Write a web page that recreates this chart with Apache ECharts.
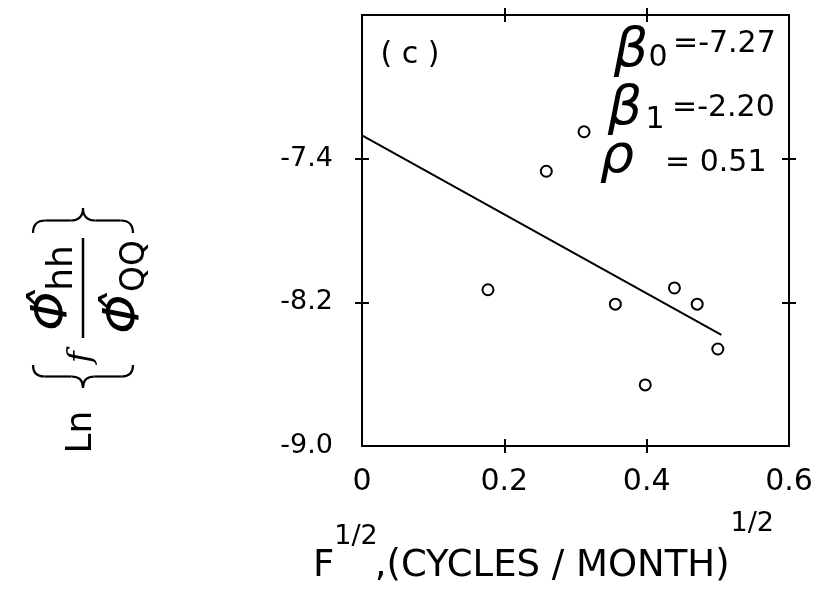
<!DOCTYPE html>
<html>
<head>
<meta charset="utf-8">
<script src="https://cdn.jsdelivr.net/npm/echarts@6/dist/echarts.min.js"></script>
<style>
  html, body { margin: 0; padding: 0; background: #ffffff; }
  #chart { width: 816px; height: 590px; }
</style>
</head>
<body>
<div id="chart"></div>
<script>
// Square root of frequency, (cycles/month)^1/2, one entry per observation
const freqSqrt = [0.177, 0.259, 0.312, 0.356, 0.398, 0.439, 0.471, 0.500];
// Ln{ f * phi_hh / phi_QQ } at each frequency
const logRatio = [-8.13, -7.47, -7.25, -8.21, -8.66, -8.12, -8.21, -8.46];
// Regression fit: intercept, slope and correlation
const beta0 = -7.27;
const beta1 = -2.20;
const rho = 0.51;
// x extent of the fitted line
const fitRange = [0, 0.505];
// Axis ticks and labels
const xLabelValues = [0, 0.2, 0.4, 0.6];
const xTickValues = [0.2, 0.4];
const yLabelValues = [-9.0, -8.2, -7.4];
const yTickValues = [-8.2, -7.4];

const FONT = '"DejaVu Sans", sans-serif';
const INK = '#000000';

const fitLine = fitRange.map(x => [x, beta0 + beta1 * x]);
const points = freqSqrt.map((x, i) => [x, logRatio[i]]);

// Axes carry only ticks and labels; the frame is the grid border.
// Ticks are 14px long on an axis shifted 7px inward, so they cross the frame.
function xAxisDef(position, withLabels) {
  return {
    type: 'value', min: 0, max: 0.6, position: position, offset: -7,
    axisLine: { show: false, onZero: false },
    axisTick: { show: true, customValues: xTickValues, length: 14, lineStyle: { color: INK, width: 2 } },
    axisLabel: withLabels ? {
      show: true, customValues: xLabelValues, margin: 28, color: INK, fontSize: 30, fontFamily: FONT,
      formatter: v => (v === 0 ? '0' : v.toFixed(1))
    } : { show: false },
    splitLine: { show: false }
  };
}
function yAxisDef(position, withLabels) {
  return {
    type: 'value', min: -9.0, max: -6.6, position: position, offset: -7,
    axisLine: { show: false, onZero: false },
    axisTick: { show: true, customValues: yTickValues, length: 14, lineStyle: { color: INK, width: 2 } },
    axisLabel: withLabels ? {
      show: true, customValues: yLabelValues, margin: 36, color: INK, fontSize: 27, fontFamily: FONT,
      formatter: v => v.toFixed(1)
    } : { show: false },
    splitLine: { show: false }
  };
}

// Curly brace drawn in the local frame of the rotated title group
function brace(xe, xc, h) {
  const r = Math.abs(xe - xc) / 2;
  const xm = (xe + xc) / 2;
  const st = { stroke: INK, lineWidth: 2.2, fill: null };
  const els = [];
  [-1, 1].forEach(s => {
    els.push({ type: 'bezierCurve', shape: { x1: xe, y1: s * h, cpx1: xm, cpy1: s * h, x2: xm, y2: s * (h - r) }, style: st });
    els.push({ type: 'line', shape: { x1: xm, y1: s * (h - r), x2: xm, y2: s * r }, style: st });
    els.push({ type: 'bezierCurve', shape: { x1: xm, y1: s * r, cpx1: xm, cpy1: 0, x2: xc, y2: 0 }, style: st });
  });
  return els;
}

function txt(x, y, text, font, align) {
  return { type: 'text', x: x, y: y, style: { text: text, font: font, fill: INK, align: align || 'center', verticalAlign: 'middle' } };
}

const measureCtx = document.createElement('canvas').getContext('2d');
function textWidth(text, font) {
  measureCtx.font = font;
  return measureCtx.measureText(text).width;
}

// Rotated y-axis title: Ln{ f  phi_hh / phi_QQ }
const yTitle = {
  type: 'group', x: 83, y: 330, rotation: Math.PI / 2,
  children: [
    txt(-102, -1, 'Ln', '36px ' + FONT),
    ...brace(-35, -58, 50),
    txt(-27, -1, 'f', 'italic 32px "DejaVu Serif", serif'),
    { type: 'line', shape: { x1: -8, y1: 0, x2: 92, y2: 0 }, style: { stroke: INK, lineWidth: 2.5 } },
    txt(19, -30, 'Φ\u0302', 'italic 50px ' + FONT),
    txt(62, -20, 'hh', '36px ' + FONT),
    txt(16, 42, 'Φ\u0302', 'italic 50px ' + FONT),
    txt(64, 52, 'QQ', '33px ' + FONT),
    ...brace(97, 122, 50)
  ]
};

// x-axis title with two 1/2 superscripts
const mainFont = '37px ' + FONT;
const supFont = '27px ' + FONT;
const xTitle = [];
(function () {
  let cx = 313;
  xTitle.push(txt(cx, 566, 'F', mainFont, 'left'));
  cx += textWidth('F', mainFont);
  xTitle.push(txt(cx, 537, '1/2', supFont, 'left'));
  cx += textWidth('1/2', supFont) - 3;
  const body = ',(CYCLES / MONTH)';
  xTitle.push(txt(cx, 566, body, mainFont, 'left'));
  cx += textWidth(body, mainFont) + 1;
  xTitle.push(txt(cx, 524, '1/2', supFont, 'left'));
})();

const notes = [
  txt(410, 55, '( c )', '30px ' + FONT),
  txt(631, 52, 'β', 'italic 54px ' + FONT),
  txt(658, 58, '0', '30px ' + FONT),
  txt(673, 44, '=-' + Math.abs(beta0).toFixed(2), '30px ' + FONT, 'left'),
  txt(625, 110, 'β', 'italic 54px ' + FONT),
  txt(655, 120, '1', '30px ' + FONT),
  txt(672, 108, '=-' + Math.abs(beta1).toFixed(2), '30px ' + FONT, 'left'),
  txt(617, 158, 'ρ', 'italic 54px ' + FONT),
  txt(665, 163, '= ' + rho.toFixed(2), '30px ' + FONT, 'left')
];

const chart = echarts.init(document.getElementById('chart'), null, { renderer: 'canvas' });
chart.setOption({
  animation: false,
  backgroundColor: '#ffffff',
  grid: { left: 362, top: 15, width: 427, height: 431, show: true, borderColor: INK, borderWidth: 2, backgroundColor: 'transparent' },
  xAxis: [xAxisDef('bottom', true), xAxisDef('top', false)],
  yAxis: [yAxisDef('left', true), yAxisDef('right', false)],
  series: [
    {
      type: 'line', xAxisIndex: 0, yAxisIndex: 0, data: fitLine, symbol: 'none',
      lineStyle: { color: INK, width: 2 }, z: 2
    },
    {
      type: 'scatter', xAxisIndex: 0, yAxisIndex: 0, data: points, symbol: 'circle', symbolSize: 11,
      itemStyle: { color: '#ffffff', borderColor: INK, borderWidth: 2, opacity: 1 }, z: 3
    }
  ],
  graphic: [yTitle, ...xTitle, ...notes]
});
</script>
</body>
</html>
